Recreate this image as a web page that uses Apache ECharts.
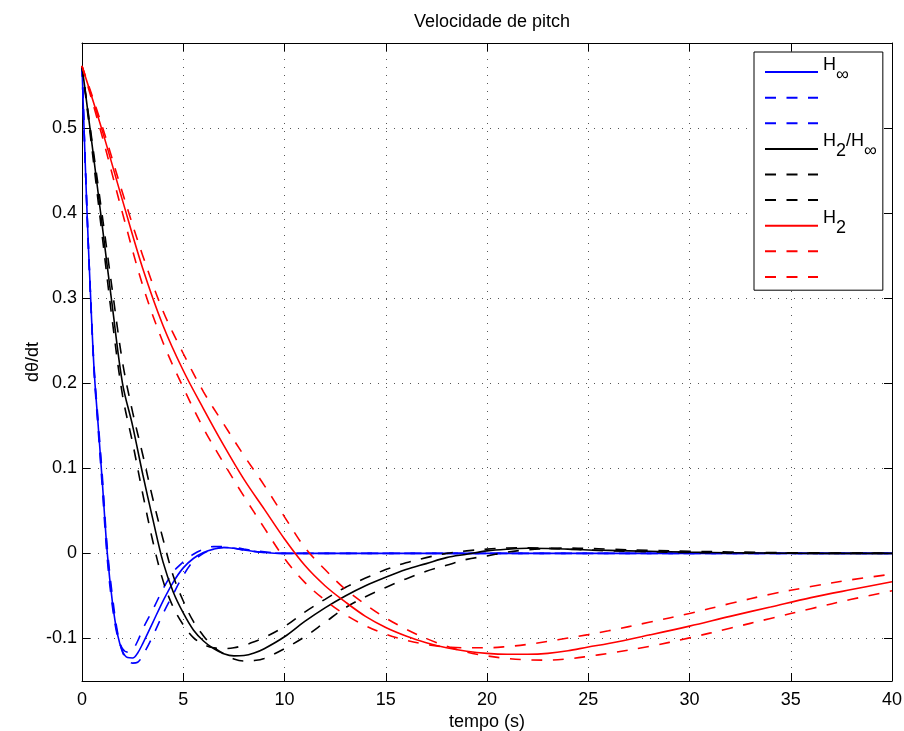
<!DOCTYPE html>
<html>
<head>
<meta charset="utf-8">
<script src="https://cdn.jsdelivr.net/npm/echarts@6/dist/echarts.min.js"></script>
<style>
  html, body { margin: 0; padding: 0; background: #fff; }
  #chart { width: 904px; height: 731px; }
</style>
</head>
<body>
<div id="chart"></div>
<script>
// Pitch-rate responses: nominal (solid) and two perturbed plants (dashed) per controller.
const FONT = '"Liberation Sans", Arial, Helvetica, sans-serif';

const xTicks = [0, 5, 10, 15, 20, 25, 30, 35, 40];
const yTicks = [-0.1, 0, 0.1, 0.2, 0.3, 0.4, 0.5];

// H-infinity controller
const tBlue = [0, 0.1, 0.25, 0.4, 0.6, 0.8, 1.0, 1.25, 1.5, 1.75, 2.0, 2.25, 2.5, 2.75, 3.0, 3.5,
  4.0, 4.5, 5.0, 5.5, 6.0, 6.5, 7.0, 7.5, 8.0, 9.0, 10, 12, 15, 20, 30, 40];
const hinf = [0.573, 0.50, 0.40, 0.315, 0.215, 0.15, 0.085, 0.0, -0.057, -0.095, -0.115, -0.1225, -0.123, -0.117, -0.106, -0.081,
  -0.056, -0.034, -0.017, -0.006, 0.001, 0.005, 0.007, 0.006, 0.004, 0.001, 0, 0, 0, 0, 0, 0];
const hinfFast = [0.573, 0.50, 0.40, 0.313, 0.212, 0.145, 0.078, -0.007, -0.062, -0.097, -0.112, -0.116, -0.113, -0.103, -0.089, -0.066,
  -0.042, -0.022, -0.010, -0.001, 0.005, 0.008, 0.008, 0.006, 0.004, 0.001, 0, 0, 0, 0, 0, 0];
const hinfSlow = [0.573, 0.50, 0.40, 0.316, 0.218, 0.155, 0.092, 0.006, -0.05, -0.092, -0.116, -0.126, -0.129, -0.128, -0.120, -0.097,
  -0.071, -0.048, -0.026, -0.009, 0.0, 0.005, 0.007, 0.007, 0.005, 0.002, 0, 0, 0, 0, 0, 0];

// Mixed H2/H-infinity controller
const tBlack = [0, 0.5, 1, 1.5, 2, 2.5, 3, 3.5, 4, 4.5, 5, 5.5, 6, 6.5, 7, 7.5, 8, 8.5, 9, 10,
  11, 12, 13, 14, 15, 16, 17, 18, 19, 20, 21, 22, 23, 24, 25, 26, 28, 30, 32, 35, 40];
const h2hinf = [0.573, 0.48, 0.385, 0.29, 0.2, 0.15, 0.093, 0.04, -0.01, -0.045, -0.07, -0.09, -0.103, -0.112, -0.118, -0.1205, -0.12, -0.117, -0.112, -0.098,
  -0.08, -0.064, -0.05, -0.038, -0.028, -0.019, -0.012, -0.005, -0.001, 0.003, 0.005, 0.006, 0.0058, 0.005, 0.004, 0.0035, 0.0025, 0.0015, 0.0008, 0.0002, 0];
const h2hinfFast = [0.573, 0.474, 0.373, 0.273, 0.186, 0.13, 0.07, 0.014, -0.032, -0.063, -0.084, -0.099, -0.107, -0.111, -0.112, -0.111, -0.108, -0.104, -0.099, -0.086,
  -0.069, -0.054, -0.04, -0.029, -0.019, -0.011, -0.005, 0.0, 0.003, 0.005, 0.0063, 0.0065, 0.006, 0.005, 0.004, 0.003, 0.002, 0.001, 0.0005, 0.0001, 0];
const h2hinfSlow = [0.573, 0.484, 0.397, 0.309, 0.225, 0.166, 0.116, 0.064, 0.017, -0.026, -0.056, -0.08, -0.097, -0.11, -0.118, -0.124, -0.1265, -0.126, -0.1235, -0.112,
  -0.098, -0.081, -0.064, -0.051, -0.04, -0.03, -0.021, -0.014, -0.007, -0.003, 0.0015, 0.0042, 0.0058, 0.0062, 0.0058, 0.005, 0.0036, 0.0026, 0.0017, 0.0008, 0.0002];

// H2 controller
const tRed = [0, 1, 2, 3, 4, 5, 6, 7, 8, 9, 10, 11, 12, 13, 14, 15, 16, 17, 18, 19, 20,
  21, 22, 23, 24, 25, 26, 28, 30, 32, 34, 36, 38, 40];
const h2 = [0.573, 0.497, 0.415, 0.335, 0.268, 0.215, 0.17, 0.127, 0.087, 0.052, 0.017, -0.014, -0.038, -0.057, -0.074, -0.087, -0.097, -0.105, -0.111, -0.115, -0.1175,
  -0.1185, -0.1185, -0.1175, -0.1145, -0.110, -0.106, -0.096, -0.0855, -0.074, -0.063, -0.052, -0.0425, -0.0334];
const h2Fast = [0.573, 0.49, 0.40, 0.315, 0.248, 0.195, 0.147, 0.106, 0.067, 0.03, -0.006, -0.034, -0.055, -0.072, -0.085, -0.095, -0.102, -0.107, -0.110, -0.111, -0.111,
  -0.1095, -0.107, -0.1035, -0.0995, -0.0955, -0.091, -0.081, -0.0706, -0.059, -0.048, -0.039, -0.031, -0.0244];
const h2Slow = [0.573, 0.502, 0.424, 0.35, 0.285, 0.235, 0.19, 0.152, 0.115, 0.08, 0.043, 0.007, -0.019, -0.042, -0.06, -0.076, -0.089, -0.1, -0.109, -0.116, -0.1205,
  -0.1235, -0.1252, -0.1255, -0.124, -0.121, -0.1175, -0.1095, -0.0993, -0.088, -0.0765, -0.065, -0.054, -0.044];

// Legend labels; subscripts are lowered through rich-text token boxes.
// Unlabelled entries use the same token layout so every row has the same height.
const legendText = {
  Hinf: '{h|H}{s|\u221e}',
  H2Hinf: '{h|H}{s|2}{h|/H}{s|\u221e}',
  H2: '{h|H}{s|2}'
};
const blankLabel = '{h| }{s| }';

const DASH = [11, 10.5];

function curve(name, t, v, color, dashed) {
  return {
    name: name,
    type: 'line',
    data: t.map((x, i) => [x, v[i]]),
    showSymbol: false,
    symbol: 'none',
    smooth: 0.35,
    lineStyle: { color: color, width: 1.6, type: dashed ? DASH : 'solid' },
    itemStyle: { color: color },
    silent: true,
    animation: false
  };
}

const series = [
  curve('Hinf', tBlue, hinf, '#0000ff', false),
  curve('Hinf_a', tBlue, hinfFast, '#0000ff', true),
  curve('Hinf_b', tBlue, hinfSlow, '#0000ff', true),
  curve('H2Hinf', tBlack, h2hinf, '#000000', false),
  curve('H2Hinf_a', tBlack, h2hinfFast, '#000000', true),
  curve('H2Hinf_b', tBlack, h2hinfSlow, '#000000', true),
  curve('H2', tRed, h2, '#ff0000', false),
  curve('H2_a', tRed, h2Fast, '#ff0000', true),
  curve('H2_b', tRed, h2Slow, '#ff0000', true)
];

const gridLine = { show: true, lineStyle: { color: '#555', width: 1, type: [1, 7] } };
const textStyle = { color: '#000', fontFamily: FONT, fontSize: 18 };

const chart = echarts.init(document.getElementById('chart'), null, { renderer: 'canvas' });
chart.setOption({
  backgroundColor: '#fff',
  animation: false,
  title: {
    text: 'Velocidade de pitch',
    left: 487, top: 8, textAlign: 'center',
    textStyle: { color: '#000', fontFamily: FONT, fontSize: 18, fontWeight: 'normal' }
  },
  grid: { left: 82, right: 12, top: 43, bottom: 50, containLabel: false, outerBoundsMode: 'none' },
  legend: {
    orient: 'vertical',
    left: 754, top: 52,
    padding: [3.7, 6, 1.7, 10],
    itemWidth: 53, itemHeight: 14, itemGap: -2.4,
    backgroundColor: '#fff',
    borderColor: '#000', borderWidth: 1, borderRadius: 0,
    selectedMode: false,
    itemStyle: { opacity: 0 },
    formatter: name => legendText[name] || blankLabel,
    textStyle: {
      color: '#000', fontFamily: FONT, fontSize: 18,
      rich: {
        h: { fontFamily: FONT, fontSize: 18, color: '#000', height: 2, verticalAlign: 'top' },
        s: { fontFamily: FONT, fontSize: 18, color: '#000', height: 11.6, padding: [5.2, 0, 0, 0], verticalAlign: 'top' }
      }
    },
    data: series.map(s => s.name)
  },
  xAxis: [{
    type: 'value', min: 0, max: 40, interval: 5, position: 'bottom',
    name: 'tempo (s)', nameLocation: 'middle', nameGap: 32, nameMoveOverlap: false,
    nameTextStyle: textStyle,
    axisLine: { show: true, onZero: false, lineStyle: { color: '#000', width: 1 } },
    axisTick: { show: true, inside: true, length: 8, lineStyle: { color: '#000' } },
    axisLabel: Object.assign({ margin: 10 }, textStyle),
    splitLine: gridLine
  }, {
    type: 'value', min: 0, max: 40, interval: 5, position: 'top',
    axisLine: { show: true, onZero: false, lineStyle: { color: '#000', width: 1 } },
    axisTick: { show: true, inside: true, length: 8, lineStyle: { color: '#000' } },
    axisLabel: { show: false },
    splitLine: { show: false }
  }],
  yAxis: [{
    type: 'value', min: -0.15, max: 0.6, position: 'left',
    name: 'd\u03b8/dt', nameLocation: 'middle', nameGap: 40, nameRotate: 90, nameMoveOverlap: false,
    nameTextStyle: textStyle,
    axisLine: { show: true, onZero: false, lineStyle: { color: '#000', width: 1 } },
    axisTick: { show: true, inside: true, length: 8, customValues: yTicks, lineStyle: { color: '#000' } },
    axisLabel: Object.assign({ margin: 5, customValues: yTicks, formatter: v => String(v) }, textStyle),
    splitLine: gridLine
  }, {
    type: 'value', min: -0.15, max: 0.6, position: 'right',
    axisLine: { show: true, onZero: false, lineStyle: { color: '#000', width: 1 } },
    axisTick: { show: true, inside: true, length: 8, customValues: yTicks, lineStyle: { color: '#000' } },
    axisLabel: { show: false, customValues: yTicks },
    splitLine: { show: false }
  }],
  series: series
});
</script>
</body>
</html>
